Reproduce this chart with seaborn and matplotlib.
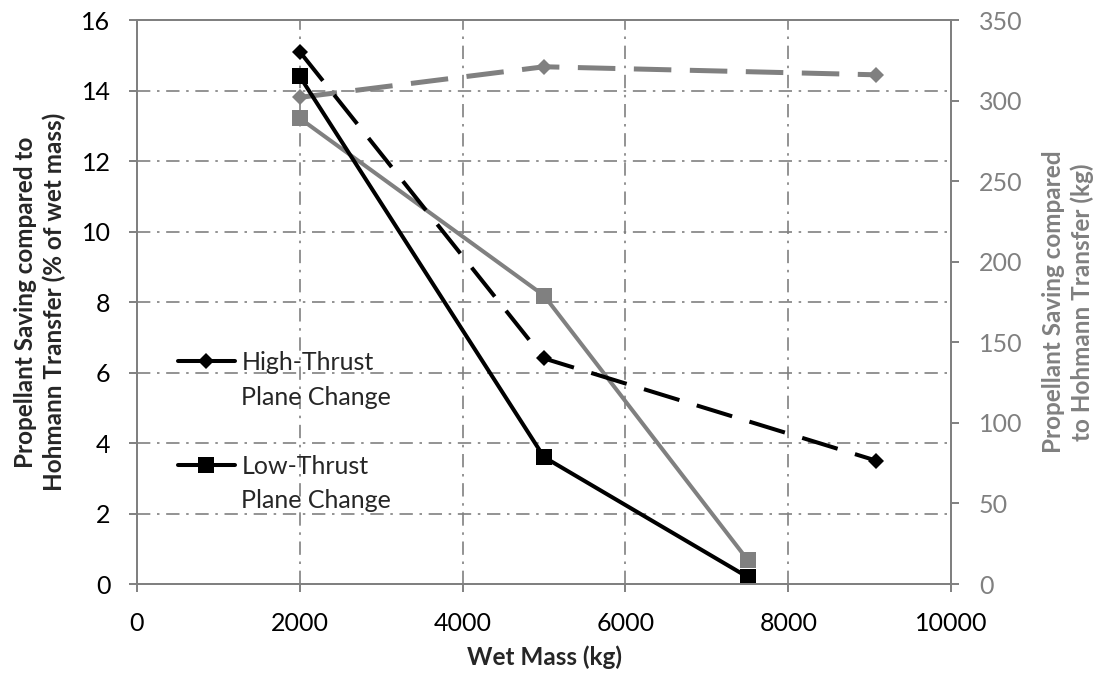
import numpy as np
import pandas as pd
import matplotlib
matplotlib.use("Agg")
import matplotlib.pyplot as plt
from matplotlib.lines import Line2D
import seaborn as sns

# ─── DATA ─────────────────────────────────────────────────────────────────────
high_mass = [2000, 5000, 9080]
high_pct = [15.1, 6.4, 3.5]
high_kg = [302, 321, 316]

low_mass = [2000, 5000, 7500]
low_pct = [14.4, 3.6, 0.2]
low_kg = [289, 179, 15]

x_ticks = [0, 2000, 4000, 6000, 8000, 10000]
left_ticks = [0, 2, 4, 6, 8, 10, 12, 14, 16]
right_ticks = [0, 50, 100, 150, 200, 250, 300, 350]

# ─── STYLE ────────────────────────────────────────────────────────────────────
GRAY = "#808080"
sns.set_style("white")
plt.rcParams["font.family"] = ["Lato", "DejaVu Sans"]

fig = plt.figure(figsize=(11.09, 6.79), dpi=100)
ax = fig.add_axes([0.1235, 0.1399, 0.7341, 0.8306])
ax2 = ax.twinx()

high_df = pd.DataFrame({"mass": high_mass, "pct": high_pct, "kg": high_kg})
low_df = pd.DataFrame({"mass": low_mass, "pct": low_pct, "kg": low_kg})

# right-axis (kg) series in grey
sns.lineplot(data=high_df, x="mass", y="kg", ax=ax2, color=GRAY, lw=3.6,
             linestyle=(0, (7.5, 3.7)), marker="D", markersize=8,
             markeredgewidth=0, sort=False)
sns.lineplot(data=low_df, x="mass", y="kg", ax=ax2, color=GRAY, lw=2.9,
             marker="s", markersize=11, markeredgewidth=0, sort=False)

# left-axis (%) series in black
sns.lineplot(data=high_df, x="mass", y="pct", ax=ax, color="black", lw=2.9,
             linestyle=(0, (9.2, 4.5)), marker="D", markersize=8,
             markeredgewidth=0, sort=False)
sns.lineplot(data=low_df, x="mass", y="pct", ax=ax, color="black", lw=2.9,
             marker="s", markersize=11, markeredgewidth=0, sort=False)

ax.set_zorder(ax2.get_zorder() + 1)
ax.patch.set_visible(False)

ax.set_xlim(0, 10000)
ax.set_ylim(0, 16)
ax2.set_ylim(0, 350)
ax.set_xticks(x_ticks)
ax.set_yticks(left_ticks)
ax2.set_yticks(right_ticks)

ax.grid(True, color=GRAY, linestyle=(0, (8, 4, 1.5, 4)), linewidth=1.2)
ax2.grid(False)

for a in (ax, ax2):
    for s in a.spines.values():
        s.set_color(GRAY)
        s.set_linewidth(1.4)
    a.tick_params(axis="both", which="both", length=6, width=1.4,
                  color=GRAY, labelsize=18, direction="out")

ax.tick_params(axis="y", labelcolor="black", left=True, pad=13)
ax.tick_params(axis="x", labelcolor="black", bottom=True, pad=14)
ax2.tick_params(axis="y", labelcolor=GRAY, right=True, pad=14)

ax.set_xlabel("Wet Mass (kg)", fontsize=17.5, fontweight="bold", labelpad=8)
ax.set_ylabel("Propellant Saving compared to\nHohmann Transfer (% of wet mass)",
              fontsize=17.5, fontweight="bold", labelpad=11, linespacing=1.3)
ax2.set_ylabel("Propellant Saving compared\nto Hohmann Transfer (kg)",
               fontsize=17.5, fontweight="bold", color=GRAY, rotation=90,
               labelpad=14, linespacing=1.3)

# legend: series name on the first line, "Plane Change" below it
h_high = Line2D([], [], color="black", lw=2.9, marker="D", markersize=8,
                markeredgewidth=0)
h_low = Line2D([], [], color="black", lw=2.9, marker="s", markersize=11,
               markeredgewidth=0)
blank = Line2D([], [], color="none")
ax.legend([h_high, blank, blank, h_low, blank],
          ["High-Thrust", "Plane Change", "", "Low-Thrust", "Plane Change"],
          loc="upper left", bbox_to_anchor=(0.05, 0.413), frameon=False,
          fontsize=18, handlelength=2.3, labelspacing=0.46,
          handletextpad=0.25, borderpad=0, borderaxespad=0)

plt.savefig("out.png", dpi=100)
plt.close()
